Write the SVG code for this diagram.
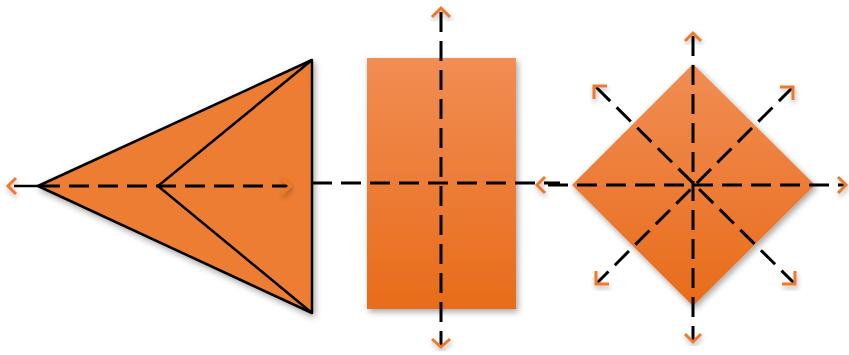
<svg xmlns="http://www.w3.org/2000/svg" width="849" height="355" viewBox="0 0 849 355">
<defs>
<linearGradient id="gr" x1="0" y1="0" x2="0" y2="1"><stop offset="0" stop-color="#F18D54"/><stop offset="1" stop-color="#E86C1A"/></linearGradient>
<filter id="sh" x="-20%" y="-20%" width="140%" height="140%"><feDropShadow dx="2" dy="3" stdDeviation="3" flood-color="#000" flood-opacity="0.35"/></filter>
<filter id="ash" x="-50%" y="-50%" width="200%" height="200%"><feDropShadow dx="1" dy="3" stdDeviation="2.5" flood-color="#000" flood-opacity="0.3"/></filter>
</defs>
<style>
.dash{fill:none;stroke:#000;stroke-width:3;stroke-dasharray:20 9}
.solid{fill:none;stroke:#000;stroke-width:2.5}
.ah{fill:none;stroke:#F0782A;stroke-width:3;filter:url(#ash)}
</style>
<g id="kite">
<polygon points="38,186 312,60 312,313" fill="#EC7D31" stroke="#000" stroke-width="2.5" stroke-linejoin="round" filter="url(#sh)"/>
<polyline class="solid" points="312,60 158,186 312,313"/>
</g>
<g id="rect">
<rect x="367" y="58" width="149" height="251" fill="url(#gr)" filter="url(#sh)"/>
</g>
<g id="diamond">
<polygon points="693,64 815,185 693,306 572,185" fill="url(#gr)" filter="url(#sh)"/>
</g>
<g id="connectors">
<line class="solid" x1="14" y1="186" x2="38" y2="186"/>
<line class="dash" x1="40" y1="186" x2="288" y2="186"/>
<path class="ah" d="M282,178 L290,186 L282,194"/>
<line class="dash" x1="312" y1="183" x2="560" y2="183"/>
<line class="dash" x1="441" y1="12" x2="441" y2="345"/>
<path class="ah" d="M432,17 L441,8 L450,17"/>
<path class="ah" d="M432,339 L441,347 L450,339"/>
<path class="ah" d="M16,178 L8,186 L16,194"/>
<line class="dash" x1="548" y1="185" x2="846" y2="185"/>
<path class="ah" d="M545,177 L537,185 L545,193"/>
<path class="ah" d="M838,177 L846,185 L838,193"/>
<line class="dash" x1="693" y1="36" x2="693" y2="340"/>
<path class="ah" d="M685,41 L693,33 L701,41"/>
<path class="ah" d="M685,334 L693,342 L701,334"/>
<line class="dash" x1="596" y1="87" x2="795" y2="284"/>
<line class="dash" x1="793" y1="87" x2="596" y2="284"/>
<path class="ah" d="M607,86 L594,86 L594,99"/>
<path class="ah" d="M780,87 L793,87 L793,100"/>
<path class="ah" d="M596,271 L596,284 L609,284"/>
<path class="ah" d="M795,271 L795,284 L782,284"/>
</g>
</svg>
